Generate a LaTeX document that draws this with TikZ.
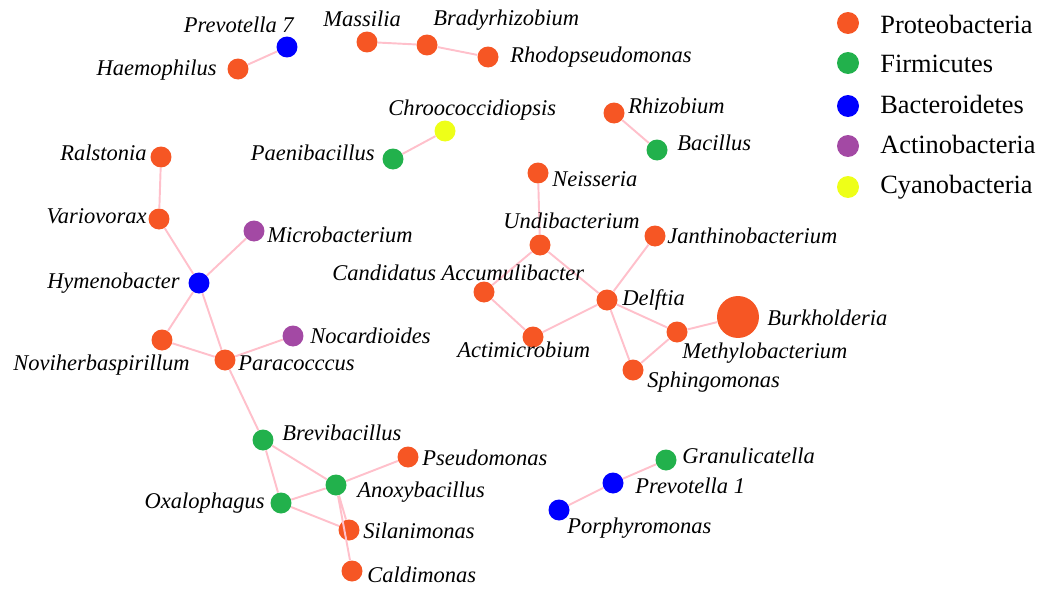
\documentclass[tikz,border=0pt]{standalone}
\usepackage{fontspec}
\setmainfont{Liberation Serif}
\definecolor{proteo}{RGB}{246,86,36}
\definecolor{firmi}{RGB}{34,177,76}
\definecolor{bactero}{RGB}{0,0,255}
\definecolor{actino}{RGB}{163,73,164}
\definecolor{cyano}{RGB}{238,255,24}
\definecolor{linkpink}{RGB}{255,192,203}

\begin{document}
\begin{tikzpicture}[x=0.02cm, y=-0.02cm,
  genus/.style={circle, inner sep=0pt, minimum size=0.42cm},
  lab/.style={font=\fontsize{12.8}{14}\selectfont\itshape, inner sep=0pt},
  leg/.style={font=\fontsize{15}{17}\selectfont, inner sep=0pt},
  link/.style={linkpink, line width=1.1pt}]
\useasboundingbox (0,0) rectangle (1039,592);

% genera
\node[genus, fill=bactero] (prev7) at (287,47) {};
\node[genus, fill=proteo] (haem) at (238,69) {};
\node[genus, fill=proteo] (mass) at (367,42) {};
\node[genus, fill=proteo] (brad) at (427,45) {};
\node[genus, fill=proteo] (rhodo) at (488,57) {};
\node[genus, fill=cyano] (chroo) at (445,131) {};
\node[genus, fill=firmi] (paeni) at (393,159) {};
\node[genus, fill=proteo] (rhizo) at (614,113) {};
\node[genus, fill=firmi] (bacil) at (657,150) {};
\node[genus, fill=proteo] (rals) at (161,157) {};
\node[genus, fill=proteo] (vario) at (159,219) {};
\node[genus, fill=actino] (micro) at (254,231) {};
\node[genus, fill=bactero] (hymen) at (199,283) {};
\node[genus, fill=proteo] (novi) at (162,340) {};
\node[genus, fill=actino] (nocar) at (293,336) {};
\node[genus, fill=proteo] (para) at (225,360) {};
\node[genus, fill=proteo] (neis) at (538,173) {};
\node[genus, fill=proteo] (undi) at (540,245) {};
\node[genus, fill=proteo] (janth) at (655,236) {};
\node[genus, fill=proteo] (cand) at (484,292) {};
\node[genus, fill=proteo] (delf) at (607,300) {};
\node[genus, fill=proteo, minimum size=0.84cm] (burk) at (738,317) {};
\node[genus, fill=proteo] (methy) at (677,332) {};
\node[genus, fill=proteo] (acti) at (533,337) {};
\node[genus, fill=proteo] (sphin) at (633,370) {};
\node[genus, fill=firmi] (brevi) at (263,440) {};
\node[genus, fill=proteo] (pseudo) at (408,457) {};
\node[genus, fill=firmi] (anoxy) at (336,485) {};
\node[genus, fill=firmi] (oxal) at (281,503) {};
\node[genus, fill=proteo] (silan) at (349,530) {};
\node[genus, fill=proteo] (caldi) at (352,571) {};
\node[genus, fill=firmi] (granu) at (666,460) {};
\node[genus, fill=bactero] (prev1) at (613,483) {};
\node[genus, fill=bactero] (porph) at (559,510) {};

% links
\draw[link] (prev7) -- (haem) (mass) -- (brad) -- (rhodo);
\draw[link] (chroo) -- (paeni) (rhizo) -- (bacil);
\draw[link] (rals) -- (vario) -- (hymen) -- (micro);
\draw[link] (hymen) -- (novi) -- (para) -- (hymen) (nocar) -- (para) -- (brevi);
\draw[link] (brevi) -- (oxal) -- (anoxy) -- (brevi) (oxal) -- (silan);
\draw[link] (anoxy) -- (pseudo) (anoxy) -- (silan) (anoxy) -- (caldi);
\draw[link] (neis) -- (undi) -- (cand) -- (acti) -- (delf) -- (undi) (janth) -- (delf);
\draw[link] (delf) -- (methy) -- (burk) (delf) -- (sphin) -- (methy);
\draw[link] (granu) -- (prev1) -- (porph);

% names
\node[lab, anchor=base east] (prev7L) at (294,32) {Prevotella 7};
\node[lab, anchor=base east] (haemL) at (217,75) {Haemophilus};
\node[lab, anchor=base west] (massL) at (323,26) {Massilia};
\node[lab, anchor=base west] (bradL) at (433,25) {Bradyrhizobium};
\node[lab, anchor=base west] (rhodoL) at (510,62) {Rhodopseudomonas};
\node[lab, anchor=base west] (chrooL) at (388,115) {Chroococcidiopsis};
\node[lab, anchor=base east] (paeniL) at (375,160) {Paenibacillus};
\node[lab, anchor=base west] (rhizoL) at (628,113) {Rhizobium};
\node[lab, anchor=base west] (bacilL) at (677,150) {Bacillus};
\node[lab, anchor=base east] (ralsL) at (147,160) {Ralstonia};
\node[lab, anchor=base east] (varioL) at (147,223) {Variovorax};
\node[lab, anchor=base west] (microL) at (267,242) {Microbacterium};
\node[lab, anchor=base east] (hymenL) at (180,288) {Hymenobacter};
\node[lab, anchor=base west] (noviL) at (13,370) {Noviherbaspirillum};
\node[lab, anchor=base west] (nocarL) at (310,343) {Nocardioides};
\node[lab, anchor=base west] (paraL) at (238,370) {Paracocccus};
\node[lab, anchor=base west] (neisL) at (552,186) {Neisseria};
\node[lab, anchor=base west] (undiL) at (503,228) {Undibacterium};
\node[lab, anchor=base west] (janthL) at (667,243) {Janthinobacterium};
\node[lab, anchor=base west] (candL) at (332,280) {Candidatus Accumulibacter};
\node[lab, anchor=base west] (delfL) at (622,305) {Delftia};
\node[lab, anchor=base west] (burkL) at (767,325) {Burkholderia};
\node[lab, anchor=base west] (methyL) at (682,358) {Methylobacterium};
\node[lab, anchor=base west] (actiL) at (457,357) {Actimicrobium};
\node[lab, anchor=base west] (sphinL) at (647,387) {Sphingomonas};
\node[lab, anchor=base west] (breviL) at (282,440) {Brevibacillus};
\node[lab, anchor=base west] (pseudoL) at (422,465) {Pseudomonas};
\node[lab, anchor=base west] (anoxyL) at (357,497) {Anoxybacillus};
\node[lab, anchor=base east] (oxalL) at (265,508) {Oxalophagus};
\node[lab, anchor=base west] (silanL) at (363,538) {Silanimonas};
\node[lab, anchor=base west] (caldiL) at (367,582) {Caldimonas};
\node[lab, anchor=base west] (granuL) at (682,463) {Granulicatella};
\node[lab, anchor=base west] (prev1L) at (635,493) {Prevotella 1};
\node[lab, anchor=base west] (porphL) at (567,533) {Porphyromonas};

% legend
\node[genus, fill=proteo, minimum size=0.44cm] (legP) at (848,23) {};
\node[genus, fill=firmi, minimum size=0.44cm] (legF) at (848,63) {};
\node[genus, fill=bactero, minimum size=0.44cm] (legB) at (848,106) {};
\node[genus, fill=actino, minimum size=0.44cm] (legA) at (848,146) {};
\node[genus, fill=cyano, minimum size=0.44cm] (legC) at (848,187) {};
\node[leg, anchor=base west] (legPL) at (880,33) {Proteobacteria};
\node[leg, anchor=base west] (legFL) at (880,72) {Firmicutes};
\node[leg, anchor=base west] (legBL) at (880,113) {Bacteroidetes};
\node[leg, anchor=base west] (legAL) at (880,153) {Actinobacteria};
\node[leg, anchor=base west] (legCL) at (880,193) {Cyanobacteria};
\end{tikzpicture}
\end{document}
